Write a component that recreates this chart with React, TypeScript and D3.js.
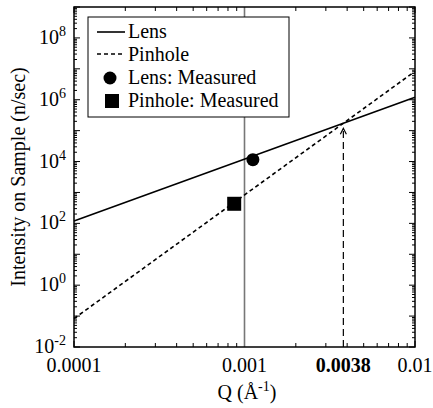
import React from 'react'
import * as d3 from 'd3'

// fitted curves (straight lines on log-log), endpoints of Q range
const qRange = [0.0001, 0.01]
const lensFit = [120, 1.2e6]
const pinholeFit = [0.083, 8.3e6]

// measured points
const measuredNames = ['Lens: Measured', 'Pinhole: Measured']
const measuredQ = [0.00112, 0.00087]
const measuredI = [1.15e4, 430]

const markerQ = 0.001
const crossQ = 0.0038

const xTickValues = [0.0001, 0.001, 0.0038, 0.01]
const xTickLabels = ['0.0001', '0.001', '0.0038', '0.01']
const yTickExps = [-2, 0, 2, 4, 6, 8]
const legendLabels = ['Lens', 'Pinhole', 'Lens: Measured', 'Pinhole: Measured']

const W = 433
const H = 408
const m = { left: 74, right: 18, top: 7, bottom: 61 }
const font = "'Liberation Serif', 'Times New Roman', Times, 'DejaVu Serif', serif"

export default function App() {
  const x = d3.scaleLog().domain([1e-4, 1e-2]).range([m.left, W - m.right])
  const y = d3.scaleLog().domain([1e-2, 1e9]).range([H - m.bottom, m.top])
  const x0 = m.left, x1 = W - m.right, y0 = H - m.bottom, y1 = m.top

  const line = d3.line<number>()
    .x((_, i) => x(qRange[i]))
    .y(d => y(d))

  const isPow = (v: number) => Math.abs(Math.log10(v) - Math.round(Math.log10(v))) < 1e-6
  const xt = x.ticks()
  const yt = y.ticks(40)

  // where the two fits cross
  const lensAt = (q: number) => lensFit[0] * Math.pow(q / qRange[0], Math.log(lensFit[1] / lensFit[0]) / Math.log(qRange[1] / qRange[0]))
  const tipY = y(lensAt(crossQ)) + 5
  const ax = x(crossQ)

  return (
    <svg width={W} height={H} style={{ position: 'absolute', left: 0, top: 0, fontFamily: font }}>
      <rect width={W} height={H} fill="white" />

      {/* ticks */}
      {xt.map((t, i) => {
        const len = isPow(t) ? 6 : 4
        return (
          <g key={'xt' + i} stroke="black" strokeWidth={1}>
            <line x1={x(t)} x2={x(t)} y1={y0} y2={y0 - len} />
            <line x1={x(t)} x2={x(t)} y1={y1} y2={y1 + len} />
          </g>
        )
      })}
      {yt.map((t, i) => {
        const len = isPow(t) ? 6 : 3
        return (
          <g key={'yt' + i} stroke="black" strokeWidth={1}>
            <line x1={x0} x2={x0 + len} y1={y(t)} y2={y(t)} />
            <line x1={x1} x2={x1 - len} y1={y(t)} y2={y(t)} />
          </g>
        )
      })}

      {/* vertical reference at Q = 0.001 */}
      <line x1={x(markerQ)} x2={x(markerQ)} y1={y0} y2={y1} stroke="#777" strokeWidth={1.6} />

      {/* fits */}
      <path d={line(lensFit) || ''} fill="none" stroke="black" strokeWidth={1.6} />
      <path d={line(pinholeFit) || ''} fill="none" stroke="black" strokeWidth={1.6} strokeDasharray="4,3" />

      {/* crossing arrow */}
      <line x1={ax} x2={ax} y1={y0} y2={tipY} stroke="black" strokeWidth={1.2} strokeDasharray="7,4" />
      <path d={`M${ax - 3},${tipY + 6}L${ax},${tipY}L${ax + 3},${tipY + 6}`} fill="none" stroke="black" strokeWidth={1.2} />

      {/* measured */}
      <circle cx={x(measuredQ[0])} cy={y(measuredI[0])} r={6.5} fill="black" />
      <rect x={x(measuredQ[1]) - 7} y={y(measuredI[1]) - 7} width={14} height={14} fill="black" />

      {/* frame */}
      <rect x={x0} y={y1} width={x1 - x0} height={y0 - y1} fill="none" stroke="black" strokeWidth={1.5} />

      {/* x tick labels */}
      {xTickValues.map((v, i) => (
        <text key={'xl' + i} x={x(v)} y={372} textAnchor="middle" fontSize={20}
          fontWeight={v === crossQ ? 'bold' : 'normal'}>{xTickLabels[i]}</text>
      ))}

      {/* y tick labels */}
      {yTickExps.map(e => (
        <text key={'yl' + e} x={66} y={y(Math.pow(10, e)) + 6} textAnchor="end" fontSize={20}>
          10<tspan dy={-8} fontSize={14}>{e}</tspan>
        </text>
      ))}

      {/* axis titles */}
      <text x={247} y={399} textAnchor="middle" fontSize={20}>
        Q (Å<tspan dy={-8} fontSize={14}>-1</tspan><tspan dy={8}>)</tspan>
      </text>
      <text transform={`translate(25,${(y0 + y1) / 2}) rotate(-90)`} textAnchor="middle" fontSize={20}>
        Intensity on Sample (n/sec)
      </text>

      {/* legend */}
      <g>
        <rect x={88} y={17} width={201} height={100} fill="white" stroke="black" strokeWidth={1} />
        <line x1={97} x2={125} y1={32} y2={32} stroke="black" strokeWidth={1.6} />
        <line x1={97} x2={125} y1={54} y2={54} stroke="black" strokeWidth={1.6} strokeDasharray="4,3" />
        <circle cx={110} cy={78} r={6.5} fill="black" />
        <rect x={105} y={94} width={14} height={14} fill="black" />
        {legendLabels.map((l, i) => (
          <text key={l} x={128} y={[38, 61, 84, 107][i]} fontSize={20}>{l}</text>
        ))}
      </g>
    </svg>
  )
}
